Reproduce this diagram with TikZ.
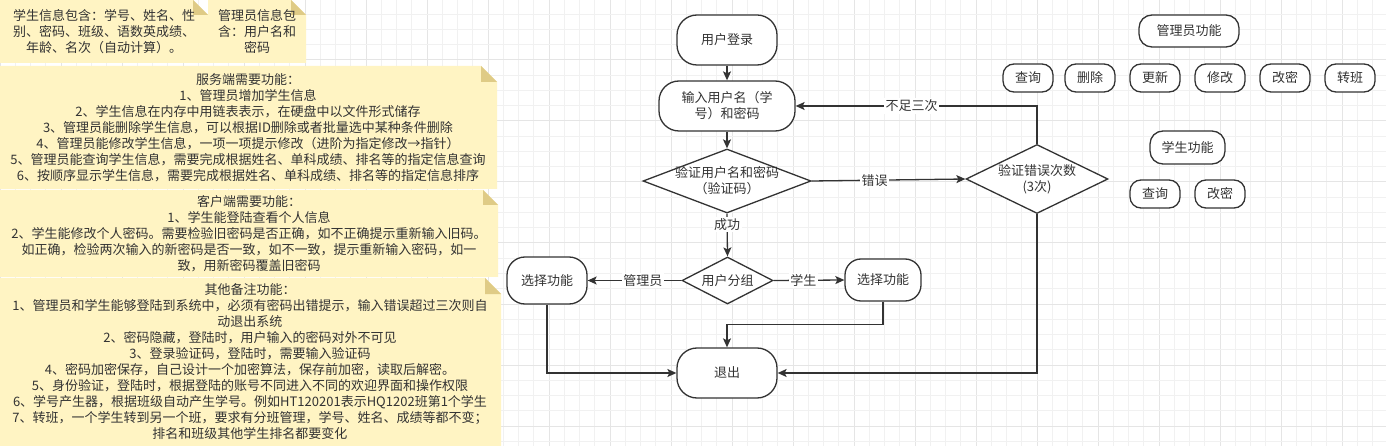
\documentclass[tikz,border=0pt]{standalone}
\usepackage{fontspec}
\setmainfont{Noto Sans CJK SC}
\usetikzlibrary{shapes.geometric,arrows.meta}
\definecolor{ink}{HTML}{333333}
\definecolor{notefill}{HTML}{FFF4C3}
\definecolor{notefold}{HTML}{DFCB86}
\definecolor{gridminor}{HTML}{F1F1F1}
\definecolor{gridmajor}{HTML}{E5E5E5}
\newcommand\mynote[5]{%
  \fill[notefill] (#1,#2) -- (#3-#5,#2) -- (#3,#2+#5) -- (#3,#4) -- (#1,#4) -- cycle;
  \fill[notefold] (#3-#5,#2) -- (#3-#5,#2+#5) -- (#3,#2+#5) -- cycle;}
\tikzset{
  txt/.style={font=\fontsize{13}{16}\selectfont, text=ink, align=center, inner sep=0pt},
  rbox/.style n args={3}{txt, draw=ink, fill=white, line width=1.3pt, rectangle,
     minimum width=#1pt, minimum height=#2pt, rounded corners=#3pt},
  dia/.style 2 args={diamond, draw=ink, fill=white, line width=1.3pt, inner sep=0pt,
     minimum width=#1pt, minimum height=#2pt},
  conn/.style={draw=ink, line width=1.3pt, -{Stealth[length=9pt,width=8pt,inset=2pt]}},
  lab/.style={txt, fill=white, inner sep=1.5pt},
}
\begin{document}
\begin{tikzpicture}[x=1pt,y=-1pt]
\useasboundingbox (0,0) rectangle (1386,446);
\fill[white] (0,0) rectangle (1386,446);
% grid
\foreach \k in {0,...,90}{
  \pgfmathsetmacro\xx{\k*15.25}
  \pgfmathtruncatemacro\mm{mod(\k,4)}
  \ifnum\mm=0 \draw[gridmajor, line width=1pt] (\xx,0) -- (\xx,446);
  \else \draw[gridminor, line width=1pt] (\xx,0) -- (\xx,446); \fi
}
\foreach \k in {0,...,30}{
  \pgfmathsetmacro\yy{-1+\k*15.25}
  \pgfmathtruncatemacro\mm{mod(\k,4)}
  \ifnum\mm=0 \draw[gridmajor, line width=1pt] (0,\yy) -- (1386,\yy);
  \else \draw[gridminor, line width=1pt] (0,\yy) -- (1386,\yy); \fi
}
% notes
\mynote{0}{0}{208}{63}{15}
\mynote{208}{0}{306}{63}{15}
\mynote{0}{66}{497}{189}{16}
\mynote{0}{190}{498}{277}{15}
\mynote{0}{278}{501}{447}{16}
\node[txt] (n1) at (104,31.5) {学生信息包含：学号、姓名、性\\别、密码、班级、语数英成绩、\\年龄、名次（自动计算）。};
\node[txt] (n2) at (257,31.5) {管理员信息包\\含：用户名和\\密码};
\node[txt] (n3) at (248,128) {服务端需要功能：\\1、管理员增加学生信息\\2、学生信息在内存中用链表表示，在硬盘中以文件形式储存\\3、管理员能删除学生信息，可以根据ID删除或者批量选中某种条件删除\\4、管理员能修改学生信息，一项一项提示修改（进阶为指定修改→指针）\\5、管理员能查询学生信息，需要完成根据姓名、单科成绩、排名等的指定信息查询\\6、按顺序显示学生信息，需要完成根据姓名、单科成绩、排名等的指定信息排序};
\node[txt] (n4) at (249,233.5) {客户端需要功能：\\1、学生能登陆查看个人信息\\2、学生能修改个人密码。需要检验旧密码是否正确，如不正确提示重新输入旧码。\\如正确，检验两次输入的新密码是否一致，如不一致，提示重新输入密码，如一\\致，用新密码覆盖旧密码};
\node[txt] (n5) at (250,362) {其他备注功能：\\1、管理员和学生能够登陆到系统中，必须有密码出错提示，输入错误超过三次则自\\动退出系统\\2、密码隐藏，登陆时，用户输入的密码对外不可见\\3、登录验证码，登陆时，需要输入验证码\\4、密码加密保存，自己设计一个加密算法，保存前加密，读取后解密。\\5、身份验证，登陆时，根据登陆的账号不同进入不同的欢迎界面和操作权限\\6、学号产生器，根据班级自动产生学号。例如HT120201表示HQ1202班第1个学生\\7、转班，一个学生转到另一个班，要求有分班管理，学号、姓名、成绩等都不变；\\排名和班级其他学生排名都要变化};
% flowchart
\node[rbox={100}{50}{20}] (login) at (727,40) {用户登录};
\node[rbox={136}{50}{20}] (input) at (727,106) {输入用户名（学\\号）和密码};
\node[dia={168}{64}] (d1) at (727,181) {};
\node[txt] (d1t) at (d1) {验证用户名和密码\\（验证码）};
\node[dia={142}{69}] (d2) at (1037,179) {};
\node[txt] (d2t) at (d2) {验证错误次数\\(3次)};
\node[dia={91}{47}] (grp) at (727.5,280.5) {};
\node[txt] (grpt) at (grp) {用户分组};
\node[rbox={80}{47}{18}] (selL) at (547,280.5) {选择功能};
\node[rbox={76}{42}{16}] (selR) at (883,280) {选择功能};
\node[rbox={100}{50}{20}] (exit) at (727,373) {退出};
% function boxes
\node[rbox={100}{32}{13}] (adm) at (1189,31) {管理员功能};
\node[rbox={50}{28}{11}] (a1) at (1028,78) {查询};
\node[rbox={50}{28}{11}] (a2) at (1090,78) {删除};
\node[rbox={50}{28}{11}] (a3) at (1155,78) {更新};
\node[rbox={50}{28}{11}] (a4) at (1220,78) {修改};
\node[rbox={50}{28}{11}] (a5) at (1285,78) {改密};
\node[rbox={50}{28}{11}] (a6) at (1350,78) {转班};
\node[rbox={75}{33}{13}] (stu) at (1187.5,147.5) {学生功能};
\node[rbox={50}{28}{11}] (s1) at (1155,194) {查询};
\node[rbox={50}{28}{11}] (s2) at (1220,194) {改密};
% connectors
\draw[conn] (login.south) -- (input.north);
\draw[conn] (input.south) -- (d1.north);
\draw[conn] (d1.east) -- node[lab, pos=0.41] {错误} (d2.west);
\draw[conn] (d2.north) |- node[lab, pos=0.76] {不足三次} (input.east);
\draw[conn] (d1.south) -- node[lab, pos=0.25] {成功} (grp.north);
\draw[conn] (grp.west) -- node[lab, pos=0.41] {管理员} (selL.east);
\draw[conn] (grp.east) -- node[lab, pos=0.42] {学生} (selR.west);
\draw[conn] (selR.south) -- ++(0,23) -| (exit.north);
\draw[conn] (selL.south) |- (exit.west);
\draw[conn] (d2.south) |- (exit.east);
\end{tikzpicture}
\end{document}
